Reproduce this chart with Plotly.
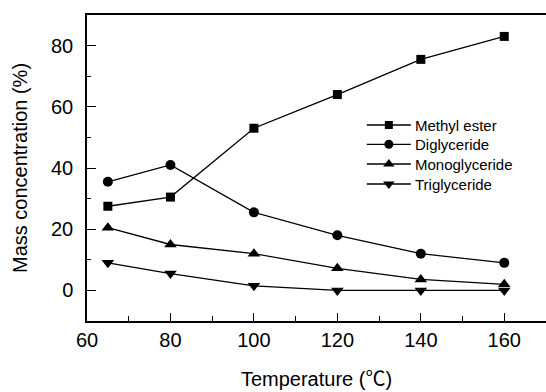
import plotly.graph_objects as go

temperature = [65, 80, 100, 120, 140, 160]
methyl_ester = [27.5, 30.5, 53.0, 64.0, 75.5, 83.0]
diglyceride = [35.5, 41.0, 25.5, 18.0, 12.0, 9.0]
monoglyceride = [20.5, 15.0, 12.0, 7.2, 3.6, 2.0]
triglyceride = [9.0, 5.5, 1.5, 0.0, 0.0, 0.0]

series_names = ["Methyl ester", "Diglyceride", "Monoglyceride", "Triglyceride"]
series_values = [methyl_ester, diglyceride, monoglyceride, triglyceride]
series_symbols = ["square", "circle", "triangle-up", "triangle-down"]
series_sizes = [9, 10, 11, 11]
legend_sizes = [8, 9, 10, 10]

# legend layout (fractions of the plot area)
LEG_X0, LEG_XM, LEG_X1, LEG_TX = 0.6096, 0.6576, 0.7056, 0.7110
LEG_ROWS = [0.6405, 0.5775, 0.513, 0.4477]

FONT = "Arial, Liberation Sans, sans-serif"

fig = go.Figure()
for name, vals, sym, sz in zip(series_names, series_values, series_symbols, series_sizes):
    fig.add_trace(go.Scatter(
        x=temperature, y=vals, name=name, mode="lines+markers",
        line=dict(color="black", width=1.3),
        marker=dict(symbol=sym, size=sz, color="black"),
        showlegend=False,
    ))

# custom legend drawn on an overlay axis spanning the plot area
for name, sym, sz, ry in zip(series_names, series_symbols, legend_sizes, LEG_ROWS):
    fig.add_trace(go.Scatter(
        x=[LEG_X0, LEG_X1], y=[ry, ry], mode="lines",
        line=dict(color="black", width=1.3), xaxis="x2", yaxis="y2",
        showlegend=False, hoverinfo="skip",
    ))
    fig.add_trace(go.Scatter(
        x=[LEG_XM], y=[ry], mode="markers",
        marker=dict(symbol=sym, size=sz, color="black"), xaxis="x2", yaxis="y2",
        showlegend=False, hoverinfo="skip",
    ))
    fig.add_annotation(
        x=LEG_TX, y=ry, xref="x2", yref="y2", text=name, showarrow=False,
        xanchor="left", yanchor="middle", font=dict(family=FONT, size=15, color="black"),
    )

fig.update_layout(
    width=546, height=392,
    margin=dict(l=87, r=0, t=15, b=71),
    paper_bgcolor="white", plot_bgcolor="white",
    font=dict(family=FONT, color="black", size=20),
    showlegend=False,
    xaxis=dict(
        range=[60, 170], tickvals=[60, 80, 100, 120, 140, 160],
        ticks="inside", ticklen=8, tickwidth=1, tickcolor="black",
        showline=True, linecolor="black", linewidth=1.5, mirror=True,
        showgrid=False, zeroline=False,
        tickfont=dict(size=20), ticklabelstandoff=0,
        minor=dict(tickvals=[70, 90, 110, 130, 150], ticks="inside", ticklen=5, tickcolor="black"),
        title=dict(text='Temperature (<span style="font-family:Noto Sans CJK SC">℃</span>)',
                   font=dict(size=20), standoff=22),
    ),
    yaxis=dict(
        range=[-10, 90], tickvals=[0, 20, 40, 60, 80],
        ticks="inside", ticklen=9, tickwidth=1, tickcolor="black",
        showline=True, linecolor="black", linewidth=1.5, mirror=False,
        showgrid=False, zeroline=False,
        tickfont=dict(size=20), ticklabelstandoff=8,
        minor=dict(tickvals=[10, 30, 50, 70], ticks="inside", ticklen=4, tickcolor="black"),
        title=dict(text="Mass concentration (%)", font=dict(size=20), standoff=18),
    ),
    xaxis2=dict(range=[0, 1], overlaying="x", visible=False, fixedrange=True),
    yaxis2=dict(range=[0, 1], overlaying="y", visible=False, fixedrange=True),
)

fig.write_html("out.html")
